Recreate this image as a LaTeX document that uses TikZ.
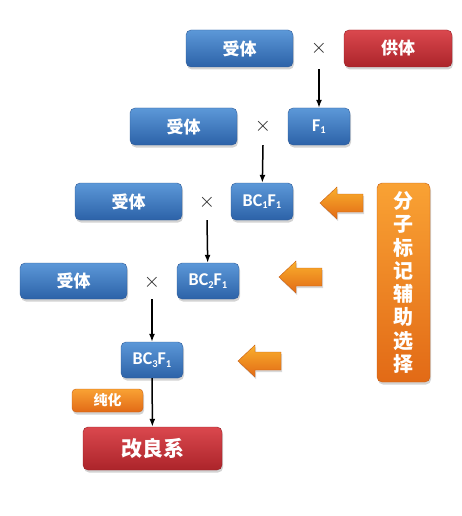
\documentclass[tikz,border=0pt]{standalone}
\usepackage{fontspec}
\usetikzlibrary{arrows.meta,positioning,shadows}
\newfontfamily\cjk{Noto Sans CJK SC}
\newfontfamily\latinlbl{Carlito}
\definecolor{BoxBlueTop}{RGB}{92,152,216}
\definecolor{BoxBlueBot}{RGB}{44,98,168}
\definecolor{BoxBlueLine}{RGB}{48,92,152}
\definecolor{BoxRedTop}{RGB}{218,72,78}
\definecolor{BoxRedBot}{RGB}{172,36,42}
\definecolor{BoxRedLine}{RGB}{150,30,36}
\definecolor{BoxOrgTop}{RGB}{249,162,52}
\definecolor{BoxOrgBot}{RGB}{226,106,22}
\definecolor{BoxOrgLine}{RGB}{200,95,20}
\newcommand{\lowidx}[1]{\raisebox{-2.5pt}{\fontsize{10.5}{10.5}\selectfont #1}}
\tikzset{
  breedbox/.style={
    rounded corners=5pt,
    minimum height=37pt,
    inner sep=2pt,
    text=white,
    drop shadow={shadow xshift=1pt,shadow yshift=-2.5pt,opacity=.35},
    font=\cjk\bfseries\fontsize{17}{17}\selectfont
  },
  bluebox/.style={
    breedbox,
    draw=BoxBlueLine,
    top color=BoxBlueTop,
    bottom color=BoxBlueBot
  },
  genbox/.style={
    bluebox,
    minimum width=62pt,
    font=\latinlbl\bfseries\fontsize{18}{18}\selectfont
  },
  redbox/.style={
    breedbox,
    draw=BoxRedLine,
    top color=BoxRedTop,
    bottom color=BoxRedBot
  },
  orangebox/.style={
    breedbox,
    draw=BoxOrgLine,
    top color=BoxOrgTop,
    bottom color=BoxOrgBot
  },
  crosssign/.style={font=\fontsize{20}{20}\selectfont,text=black!85,inner sep=0pt},
  hintarrow/.pic={
    \shade[draw=BoxOrgLine,top color=BoxOrgTop!85!yellow,bottom color=BoxOrgBot,
      drop shadow={shadow xshift=1pt,shadow yshift=-2pt,opacity=.3}]
      (0,0) -- (17,-16) -- (17,-9) -- (43,-9) -- (43,9) -- (17,9) -- (17,16) -- cycle;
  },
  link/.style={-{Latex[length=8pt,width=6pt]},line width=1.5pt,draw=black}
}

\begin{document}
\begin{tikzpicture}[x=1pt,y=-1pt]
    \useasboundingbox (0,0) rectangle (461,516);
    % rows of crosses
    \node[bluebox,minimum width=107pt] (shou1) at (239.5,48.5) {受体};
    \node[crosssign] (cross1) at (319,48) {$\times$};
    \node[redbox,minimum width=108pt] (gong) at (398,48.5) {供体};
    \node[bluebox,minimum width=107pt] (shou2) at (183.5,126.5) {受体};
    \node[crosssign] (cross2) at (263,126) {$\times$};
    \node[genbox] (f1) at (319,126.5) {F\lowidx{1}};
    \node[bluebox,minimum width=107pt] (shou3) at (128.5,201.5) {受体};
    \node[crosssign] (cross3) at (207,202) {$\times$};
    \node[genbox] (bc1) at (262,201.5) {BC\lowidx{1}F\lowidx{1}};
    \node[bluebox,minimum width=107pt,minimum height=36pt] (shou4) at (73.5,281) {受体};
    \node[crosssign] (cross4) at (152,282) {$\times$};
    \node[genbox,minimum height=36pt] (bc2) at (208,281) {BC\lowidx{2}F\lowidx{1}};
    \node[genbox,minimum height=36pt] (bc3) at (152,360) {BC\lowidx{3}F\lowidx{1}};
    \node[orangebox,minimum width=71pt,minimum height=23pt,rounded corners=4pt,font=\cjk\bfseries\fontsize{14}{14}\selectfont] (chunhua) at (107.5,400.5) {纯化};
    \node[redbox,minimum width=139pt,minimum height=43pt,font=\cjk\bfseries\fontsize{21}{21}\selectfont] (gailiang) at (152.5,448.5) {改良系};
    % marker assisted selection
    \node[orangebox,minimum width=53pt,minimum height=199pt,align=center,font=\cjk\bfseries\fontsize{20}{23.3}\selectfont] (biaoji) at (403.5,282.5) {分\\子\\标\\记\\辅\\助\\选\\择};
    \pic at (320,203) {hintarrow};
    \pic at (279,277) {hintarrow};
    \pic at (238,361) {hintarrow};
    \draw[link] ([yshift=-2pt]cross1 |- shou1.south) -- (f1);
    \draw[link] (cross2 |- shou2.south) -- (bc1);
    \draw[link] (cross3 |- shou3.south) -- (bc2);
    \draw[link] (cross4 |- shou4.south) -- (bc3);
    \draw[link] (bc3) -- (gailiang);
\end{tikzpicture}
\end{document}
